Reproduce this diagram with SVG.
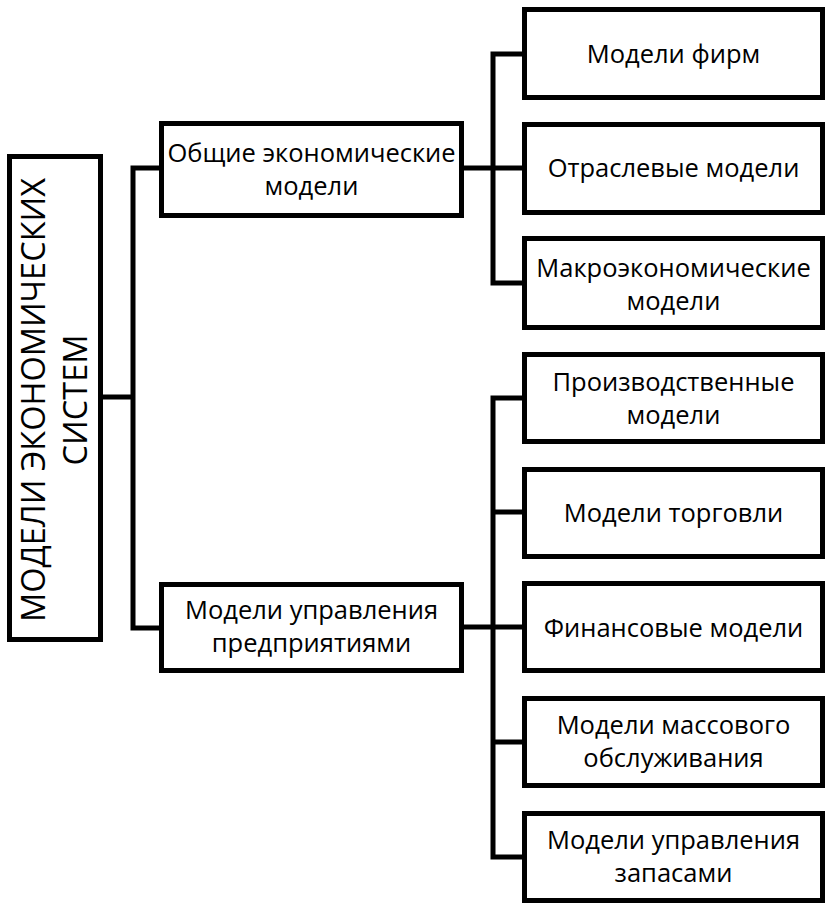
<svg xmlns="http://www.w3.org/2000/svg" width="830" height="905" viewBox="0 0 830 905">
<style>
.box{fill:#fff;stroke:#000;stroke-width:5}
.ln{fill:none;stroke:#000;stroke-width:5;stroke-linejoin:miter;stroke-linecap:square}
.t{font-family:"Open Sans","Noto Sans",sans-serif;font-size:25.5px;fill:#000;text-anchor:middle}
.r{font-family:"Open Sans","Noto Sans",sans-serif;font-size:32.5px;fill:#000;text-anchor:middle}
</style>
<rect width="830" height="905" fill="#fff"/>
<g id="connectors">
<path class="ln" d="M103 397H133M133 168V628M133 168H159M133 628H159"/>
<path class="ln" d="M464 168H493M493 54V283M493 54H522M493 168H522M493 283H522"/>
<path class="ln" d="M464 627H493M493 398V857M493 398H522M493 512H522M493 627H522M493 742H522M493 857H522"/>
</g>
<g id="root">
<rect class="box" x="9.5" y="156.5" width="91" height="483"/>
<text class="r" transform="translate(45,400) rotate(-90)">МОДЕЛИ ЭКОНОМИЧЕСКИХ</text>
<text class="r" transform="translate(87,400) rotate(-90)">СИСТЕМ</text>
</g>
<g id="general">
<rect class="box" x="161.5" y="123.5" width="300" height="92"/>
<text class="t" x="311.5" y="162">Общие экономические</text>
<text class="t" x="311.5" y="195">модели</text>
</g>
<g id="enterprise">
<rect class="box" x="161.5" y="584.5" width="300" height="86"/>
<text class="t" x="311.5" y="619">Модели управления</text>
<text class="t" x="311.5" y="652">предприятиями</text>
</g>
<g id="firms">
<rect class="box" x="524.5" y="9.5" width="298" height="88"/>
<text class="t" x="673.5" y="63">Модели фирм</text>
</g>
<g id="sector">
<rect class="box" x="524.5" y="124.5" width="298" height="88"/>
<text class="t" x="673.5" y="177">Отраслевые модели</text>
</g>
<g id="macro">
<rect class="box" x="524.5" y="238.5" width="298" height="89"/>
<text class="t" x="673.5" y="277">Макроэкономические</text>
<text class="t" x="673.5" y="310">модели</text>
</g>
<g id="production">
<rect class="box" x="524.5" y="354.5" width="298" height="87"/>
<text class="t" x="673.5" y="391">Производственные</text>
<text class="t" x="673.5" y="424">модели</text>
</g>
<g id="trade">
<rect class="box" x="524.5" y="469.5" width="298" height="87"/>
<text class="t" x="673.5" y="522">Модели торговли</text>
</g>
<g id="finance">
<rect class="box" x="524.5" y="583.5" width="298" height="87"/>
<text class="t" x="673.5" y="637">Финансовые модели</text>
</g>
<g id="queue">
<rect class="box" x="524.5" y="698.5" width="298" height="87"/>
<text class="t" x="673.5" y="734">Модели массового</text>
<text class="t" x="673.5" y="767">обслуживания</text>
</g>
<g id="inventory">
<rect class="box" x="524.5" y="813.5" width="298" height="87"/>
<text class="t" x="673.5" y="849">Модели управления</text>
<text class="t" x="673.5" y="882">запасами</text>
</g>
</svg>
